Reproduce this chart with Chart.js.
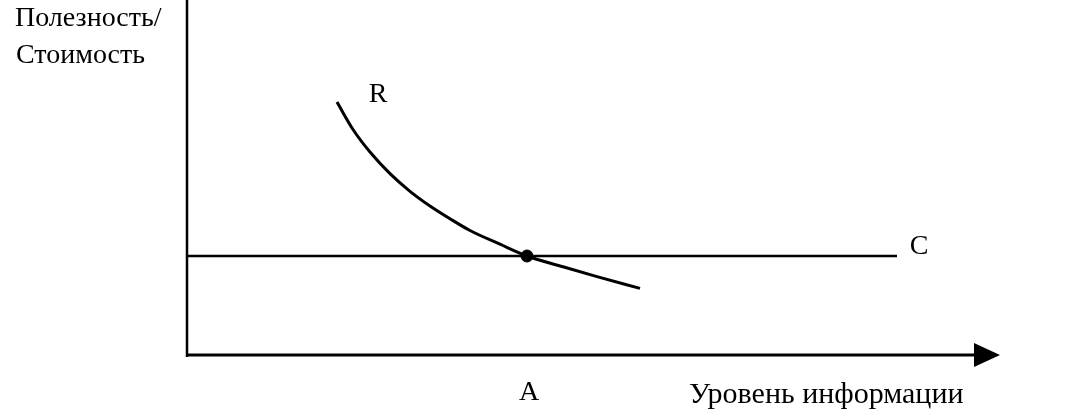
<!DOCTYPE html>
<html>
<head>
<meta charset="utf-8">
<script src="https://cdn.jsdelivr.net/npm/chart.js@4/dist/chart.umd.min.js"></script>
<style>
  html, body { margin: 0; padding: 0; background: #fff; }
  #wrap { width: 1079px; height: 420px; position: relative; }
</style>
</head>
<body>
<div id="wrap"><canvas id="chart"></canvas></div>
<script>
// Кривая полезности R и горизонтальная линия стоимости C
const curveX = [150, 166, 183, 203, 223, 243, 263, 283, 313, 340, 376, 410, 453];
const curveY = [258, 230, 207, 185, 167, 152, 139, 127, 113, 101, 90, 80, 68];
const costX = [0, 710];
const costY = [101, 101];
const pointA = { x: 340, y: 101 };
const yTitle = ['Полезность/', 'Стоимость'];
const xTitle = 'Уровень информации';

const xMax = 813;
const yMax = 355;

const toPts = (xs, ys) => xs.map((x, i) => ({ x: x, y: ys[i] }));

// Оси со стрелкой и подписи
const axesPlugin = {
    id: 'axesPlugin',
    afterDatasetsDraw(chart) {
        const ctx = chart.ctx;
        const sx = chart.scales.x, sy = chart.scales.y;
        const x0 = sx.getPixelForValue(0);
        const y0 = sy.getPixelForValue(0);
        const xEnd = sx.getPixelForValue(xMax);
        ctx.save();
        ctx.strokeStyle = '#000';
        ctx.fillStyle = '#000';
        ctx.lineWidth = 2.5;
        // ось Y
        ctx.beginPath();
        ctx.moveTo(x0, 0);
        ctx.lineTo(x0, y0 + 2);
        ctx.stroke();
        // ось X
        ctx.lineWidth = 3;
        ctx.beginPath();
        ctx.moveTo(x0, y0);
        ctx.lineTo(xEnd - 20, y0);
        ctx.stroke();
        // стрелка
        ctx.beginPath();
        ctx.moveTo(xEnd, y0);
        ctx.lineTo(xEnd - 26, y0 - 12);
        ctx.lineTo(xEnd - 26, y0 + 12);
        ctx.closePath();
        ctx.fill();

        ctx.textBaseline = 'alphabetic';
        ctx.textAlign = 'left';
        ctx.font = '28px "Liberation Serif", "DejaVu Serif", serif';
        ctx.fillText(yTitle[0], 15, 26);
        ctx.fillText(yTitle[1], 16, 63);
        ctx.font = '30px "Liberation Serif", "DejaVu Serif", serif';
        ctx.fillText(xTitle, 689, 403);

        ctx.font = '28px "Liberation Serif", "DejaVu Serif", serif';
        ctx.textAlign = 'center';
        ctx.fillText('R', sx.getPixelForValue(curveX[0]) + 41, sy.getPixelForValue(curveY[0]) + 0);
        ctx.fillText('C', sx.getPixelForValue(costX[1]) + 22, sy.getPixelForValue(costY[1]) - 2);
        ctx.fillText('A', sx.getPixelForValue(pointA.x) + 2, 400);
        ctx.restore();
    }
};

new Chart(document.getElementById('chart'), {
    type: 'scatter',
    data: {
        datasets: [{
            label: 'R',
            data: toPts(curveX, curveY),
            showLine: true,
            borderColor: '#000',
            borderWidth: 3,
            pointRadius: 0,
            cubicInterpolationMode: 'monotone'
        }, {
            label: 'C',
            data: toPts(costX, costY),
            showLine: true,
            borderColor: '#000',
            borderWidth: 2.5,
            pointRadius: 0
        }, {
            label: 'A',
            data: [pointA],
            pointRadius: 6,
            pointBackgroundColor: '#000',
            pointBorderColor: '#000'
        }]
    },
    options: {
        responsive: true,
        maintainAspectRatio: false,
        animation: false,
        clip: false,
        layout: { padding: { left: 187, right: 79, top: 0, bottom: 65 } },
        plugins: { legend: { display: false }, tooltip: { enabled: false } },
        scales: {
            x: { type: 'linear', display: false, min: 0, max: xMax },
            y: { type: 'linear', display: false, min: 0, max: yMax }
        }
    },
    plugins: [axesPlugin]
});
</script>
</body>
</html>
